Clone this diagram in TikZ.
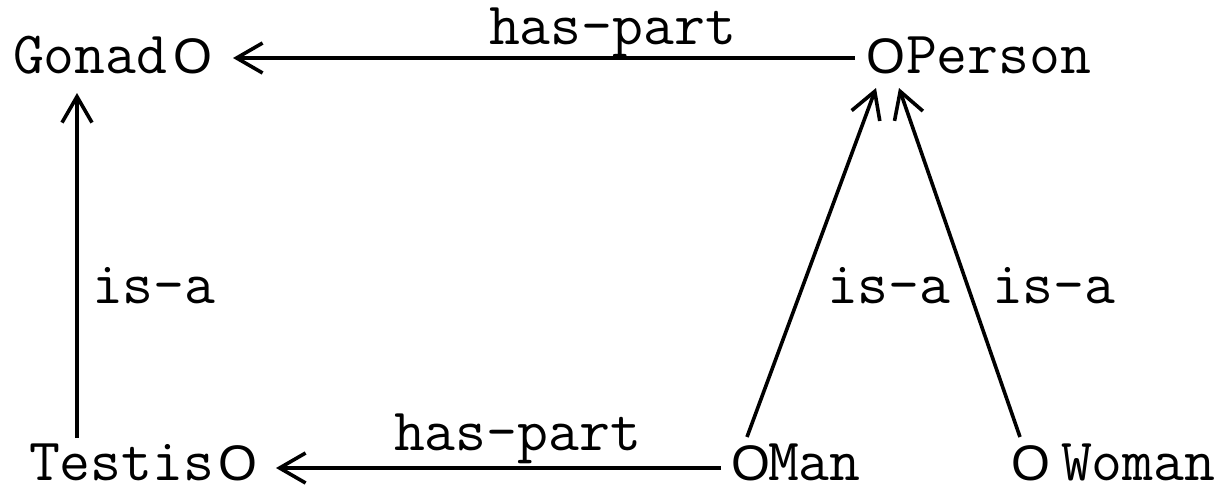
\documentclass[tikz,border=0pt]{standalone}
\usepackage{fontspec}
\newfontfamily\circfont{Liberation Sans}
\usetikzlibrary{arrows.meta,calc}
\begin{document}
\begin{tikzpicture}[x=0.5pt,y=-0.5pt,
  lbl/.style={anchor=base west,inner sep=0,outer sep=0,font=\ttfamily\fontsize{30}{33}\selectfont},
  circ/.style={anchor=base,inner sep=0,outer sep=0,font=\circfont\fontsize{25}{27}\selectfont},
  conn/.style={line width=1.8pt,-{Straight Barb[length=13pt,width=15pt]}}]
\useasboundingbox[fill=white] (0,0) rectangle (1222,493);
% nodes
\node[lbl] (gonad) at (13,73) {Gonad};
\node[circ] (gO) at (193,73) {O};
\node[circ] (pO) at (886,73) {O};
\node[lbl] (person) at (906,73) {Person};
\node[lbl] (testis) at (29,480) {Testis};
\node[circ] (tO) at (238,480) {O};
\node[circ] (mO) at (751,480) {O};
\node[lbl] (man) at (768,480) {Man};
\node[circ] (wO) at (1031,480) {O};
\node[lbl] (woman) at (1061,480) {Woman};
% labels
\node[lbl] (hp1) at (489,44) {has-part};
\node[lbl] (hp2) at (394,450) {has-part};
\node[lbl] (isa1) at (92,303) {is-a};
\node[lbl] (isa2) at (827,303) {is-a};
\node[lbl] (isa3) at (992,303) {is-a};
% connectors
\draw[conn] ($(pO.base)+(-31,-15)$) -- ($(gO.base)+(40,-15)$);
\draw[conn] ($(testis.base west)+(48,-42)$) -- ($(gonad.base west)+(64,20)$);
\draw[conn] ($(mO.base)+(-30,-12)$) -- ($(tO.base)+(38,-12)$);
\draw[conn] ($(mO.base)+(-4,-43)$) -- ($(pO.base)+(-10,15)$);
\draw[conn] ($(wO.base)+(-11,-43)$) -- ($(pO.base)+(13,15)$);
\end{tikzpicture}
\end{document}
